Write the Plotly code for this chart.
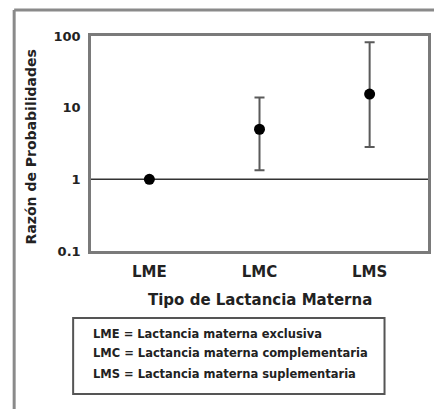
import plotly.graph_objects as go

categories = ["LME", "LMC", "LMS"]
odds_ratio = [1.0, 5.0, 15.5]
ci_upper = [1.0, 13.9, 82.0]
ci_lower = [1.0, 1.34, 2.82]
reference_value = 1.0
y_tickvals = [0.1, 1, 10, 100]
y_ticktext = ["0.1", "1", "10", "100"]
legend_lines = [
    "LME = Lactancia materna exclusiva",
    "LMC = Lactancia materna complementaria",
    "LMS = Lactancia materna suplementaria",
]
x_title = "Tipo de Lactancia Materna"
y_title = "Razón de Probabilidades"

xs = list(range(len(categories)))
x_range = [-0.53, len(categories) - 1 + 0.53]

FONT = "DejaVu Sans, Verdana, sans-serif"
TXT = "#222222"
AX = "#7a7a7a"

fig = go.Figure()

# reference line at OR = 1
fig.add_trace(go.Scatter(
    x=x_range, y=[reference_value, reference_value], mode="lines",
    line=dict(color="#333333", width=1.5), hoverinfo="skip", showlegend=False,
))

fig.add_trace(go.Scatter(
    x=xs, y=odds_ratio, mode="markers",
    marker=dict(color="black", size=11),
    error_y=dict(
        type="data", symmetric=False,
        array=[u - v for u, v in zip(ci_upper, odds_ratio)],
        arrayminus=[v - l for v, l in zip(odds_ratio, ci_lower)],
        color="#5a5a5a", thickness=2, width=5,
    ),
    showlegend=False,
))

fig.update_xaxes(
    range=x_range, tickvals=xs, ticktext=categories,
    showline=True, mirror=True, linecolor=AX, linewidth=2.5,
    showgrid=False, zeroline=False, ticks="",
    tickfont=dict(family=FONT, size=15, color=TXT, weight="bold"),
    ticklabelstandoff=5,
)
fig.update_yaxes(
    type="log", range=[-1, 2], tickvals=y_tickvals, ticktext=y_ticktext,
    showline=True, mirror=True, linecolor=AX, linewidth=2.5,
    showgrid=False, zeroline=False, ticks="",
    tickfont=dict(family=FONT, size=13, color=TXT, weight="bold"),
    ticklabelstandoff=5,
)

annotations = [
    dict(text=f"<b>{x_title}</b>", xref="paper", yref="paper", x=0.5, y=-0.228,
         xanchor="center", yanchor="middle", showarrow=False,
         font=dict(family=FONT, size=15, color=TXT)),
    dict(text=f"<b>{y_title}</b>", xref="paper", yref="paper", x=-0.179, y=0.485,
         xanchor="center", yanchor="middle", showarrow=False, textangle=-90,
         font=dict(family=FONT, size=14, color=TXT)),
]
for i, line in enumerate(legend_lines):
    annotations.append(dict(
        text=f"<b>{line}</b>", xref="paper", yref="paper", x=0.0,
        y=[-0.386, -0.474, -0.572][i], xanchor="left", yanchor="middle",
        showarrow=False, font=dict(family=FONT, size=11.5, color=TXT),
    ))

shapes = [
    dict(type="rect", xref="paper", yref="paper", x0=-0.053, x1=0.871, y0=-0.665, y1=-0.312,
         line=dict(color="#555555", width=2)),
    # outer frame: only the left and top edges fall inside the picture
    dict(type="line", xref="paper", yref="paper", x0=-0.228, x1=-0.228, y0=-0.95, y1=1.121,
         line=dict(color="#8a8a8a", width=3)),
    dict(type="line", xref="paper", yref="paper", x0=-0.228, x1=1.1, y0=1.121, y1=1.121,
         line=dict(color="#8a8a8a", width=3)),
]

# page body adds 8px margins; figure sized so the page needs no scrollbars
fig.update_layout(
    width=426, height=401,
    margin=dict(l=83, r=3, t=28, b=158),
    paper_bgcolor="white", plot_bgcolor="white",
    annotations=annotations, shapes=shapes,
    font=dict(family=FONT, color=TXT),
)

fig.write_html("out.html")
